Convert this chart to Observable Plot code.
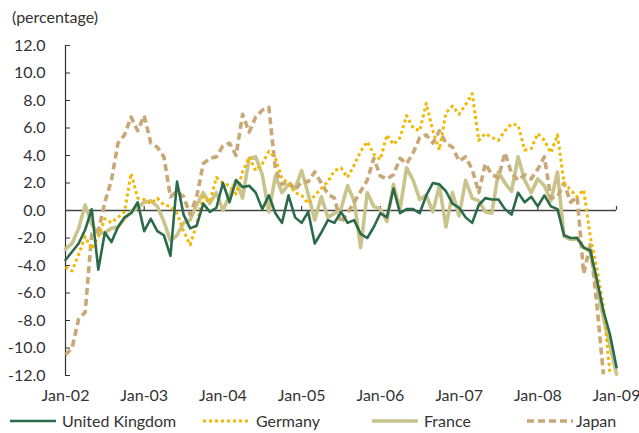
<!DOCTYPE html>
<html><head><meta charset="utf-8">
<script src="https://cdn.jsdelivr.net/npm/d3@7"></script>
<script src="https://cdn.jsdelivr.net/npm/@observablehq/plot@0.6"></script>
<style>
body{margin:0;background:#fff;font-family:Lato,"Open Sans",sans-serif;color:#333;}
#wrap{position:relative;width:639px;height:433px;overflow:hidden;}
#title{position:absolute;left:12px;top:7px;font-size:16px;line-height:19px;}
#chart{position:absolute;left:0;top:30px;}
.sw{position:absolute;top:416px;}
.lt{position:absolute;top:411px;font-size:16px;line-height:20px;}
</style></head><body>
<div id="wrap"><div id="title">(percentage)</div><div id="chart"></div><div id="legend"></div></div>
<script>
const xTicks = [0,12,24,36,48,60,72,84];
const xLabels = ["Jan-02","Jan-03","Jan-04","Jan-05","Jan-06","Jan-07","Jan-08","Jan-09"];
const yTicks = [-12,-10,-8,-6,-4,-2,0,2,4,6,8,10,12];

const ukValues = [-3.6,-3.0,-2.4,-1.4,0.1,-4.3,-1.6,-2.3,-1.2,-0.5,
 -0.2,0.6,-1.5,-0.6,-1.5,-1.8,-3.3,2.1,-0.3,-1.3,
 -1.1,0.5,-0.1,0.2,2.0,0.6,2.2,1.7,1.8,1.3,
 0.1,1.1,-0.2,-0.9,1.1,-0.5,-0.9,-0.1,-2.4,-1.6,
 -0.7,-0.9,-0.1,-0.9,-0.7,-1.7,-2.0,-1.2,-0.2,-0.5,
 1.6,-0.2,0.1,0.1,-0.2,1.1,2.0,1.9,1.4,0.5,
 0.2,-0.5,-0.9,0.4,0.9,0.8,0.8,0.1,-0.3,1.3,
 0.6,1.0,0.3,1.1,0.3,0.1,-1.8,-2.0,-2.0,-2.7,
 -2.9,-5.0,-7.3,-9.0,-11.4];
const germanyValues = [-4.1,-4.4,-3.2,-1.9,-2.8,-1.9,-0.6,-0.9,-0.5,-0.1,
 2.7,0.9,0.8,0.5,0.9,0.4,0.3,-0.2,-1.5,-2.5,
 -1.0,1.0,0.6,2.4,2.0,1.8,1.2,2.8,3.9,2.9,
 3.4,4.3,3.8,2.3,2.0,1.3,1.1,0.5,1.1,1.6,
 2.1,2.9,3.1,2.4,3.3,4.3,5.0,4.1,3.7,5.5,
 4.8,5.3,6.9,6.0,5.8,7.8,5.8,4.4,7.1,7.6,
 7.0,7.7,8.5,5.1,5.6,5.3,5.1,5.8,6.3,6.2,
 4.4,4.5,5.6,5.1,4.2,5.5,2.0,1.5,1.0,1.5,
 -1.9,-4.2,-7.0,-11.8];
const franceValues = [-2.8,-2.4,-1.3,0.4,-1.0,-1.7,-1.6,-1.3,-1.2,-0.6,
 -0.1,0.2,0.6,0.7,0.3,-0.8,-2.2,-1.8,-0.9,-0.7,
 0.4,1.3,0.5,1.3,0.0,1.1,2.2,0.9,3.8,3.9,
 2.6,-0.1,2.5,1.3,1.9,1.6,2.9,1.2,-0.7,1.0,
 -0.5,-0.2,0.1,1.8,0.7,-2.7,1.3,0.3,0.1,-0.8,
 1.9,0.1,3.1,2.2,0.8,1.1,-0.1,1.8,-1.2,1.3,
 -0.4,2.2,0.9,0.7,-0.1,-0.2,2.8,2.0,1.4,3.9,
 2.2,1.3,2.3,1.8,0.7,2.8,-1.9,-2.1,-2.0,-2.7,
 -3.0,-5.5,-7.8,-9.8,-11.9];
const japanValues = [-10.5,-10.0,-7.9,-7.4,-1.7,-1.5,0.6,2.2,4.9,5.5,
 6.8,5.8,6.9,4.9,4.6,3.9,1.0,1.4,1.0,-0.3,
 1.0,3.4,3.8,3.9,4.7,4.9,4.0,7.0,5.7,6.8,
 7.3,7.5,3.0,1.9,2.1,1.5,2.1,2.1,2.8,2.0,
 1.2,0.9,-0.9,-0.2,0.6,1.4,2.2,3.8,2.5,2.3,
 2.6,3.8,3.4,4.2,5.3,5.5,4.9,5.8,4.9,4.6,
 3.6,3.9,3.0,1.3,3.4,2.6,2.4,4.2,2.7,2.2,
 2.6,2.3,3.0,3.9,0.9,1.0,2.0,0.6,1.0,-4.6,
 -2.5,-6.8,-11.9];

const seriesNames = ["United Kingdom","Germany","France","Japan"];
const seriesColors = {"United Kingdom":"#2b6a4a","Germany":"#f2b700","France":"#c9c48c","Japan":"#c9a878"};
const seriesWidth = {"United Kingdom":2.6,"Germany":3,"France":3.6,"Japan":3.6};
const seriesDash = {"United Kingdom":null,"Germany":"3,3","France":null,"Japan":"7,4"};

const toRows = (vals) => vals.map((v,i)=>({i, v}));
const rows = {"United Kingdom":toRows(ukValues),"Germany":toRows(germanyValues),"France":toRows(franceValues),"Japan":toRows(japanValues)};
const drawOrder = ["France","Japan","Germany","United Kingdom"];

const lineMark = name => Plot.line(rows[name], {x:"i", y:"v", stroke: seriesColors[name], strokeWidth: seriesWidth[name], strokeDasharray: seriesDash[name], strokeLinejoin:"round", strokeLinecap: seriesDash[name] ? "butt" : "round"});

const chart = Plot.plot({
  width: 639, height: 380,
  marginLeft: 65, marginRight: 23, marginTop: 15, marginBottom: 35,
  x: {domain:[0,84], label: null},
  y: {domain:[-12,12], label: null},
  style: {fontFamily:"Lato, 'Open Sans', sans-serif", fontSize:"16px", color:"#333", background:"#fff", overflow:"visible"},
  marks: [
    Plot.ruleX([0], {stroke:"#333", strokeWidth:1.2}),
    Plot.axisY({ticks: yTicks, tickSize: 5, tickPadding: 20, dx: 5, tickFormat: d => d.toFixed(1), stroke:"#333", label: null}),
    Plot.axisX({ticks: xTicks, tickSize: 0, tickPadding: 14, tickFormat: d => xLabels[xTicks.indexOf(d)], label: null}),
    Plot.ruleY([0], {stroke:"#444", strokeWidth:1.5}),
    Plot.ruleX(xTicks.slice(1), {y1:0, y2:0.3, stroke:"#444", strokeWidth:1.2}),
    ...drawOrder.map(lineMark)
  ]
});
document.getElementById("chart").appendChild(chart);

// legend
const legendPos = {"United Kingdom":[10,62],"Germany":[203,256],"France":[372,424],"Japan":[527,576]};
const leg = document.getElementById("legend");
seriesNames.forEach(name => {
  const [sx, tx] = legendPos[name];
  const ns = "http://www.w3.org/2000/svg";
  const svg = document.createElementNS(ns, "svg");
  svg.setAttribute("width", 48); svg.setAttribute("height", 10);
  svg.setAttribute("class","sw");
  svg.style.left = sx + "px";
  const ln = document.createElementNS(ns, "line");
  ln.setAttribute("x1",0); ln.setAttribute("x2",46); ln.setAttribute("y1",5); ln.setAttribute("y2",5);
  ln.setAttribute("stroke", seriesColors[name]);
  ln.setAttribute("stroke-width", seriesWidth[name]);
  if (seriesDash[name]) ln.setAttribute("stroke-dasharray", seriesDash[name]);
  svg.appendChild(ln);
  leg.appendChild(svg);
  const t = document.createElement("div");
  t.className = "lt"; t.style.left = tx + "px"; t.textContent = name;
  leg.appendChild(t);
});
</script>
</body></html>
